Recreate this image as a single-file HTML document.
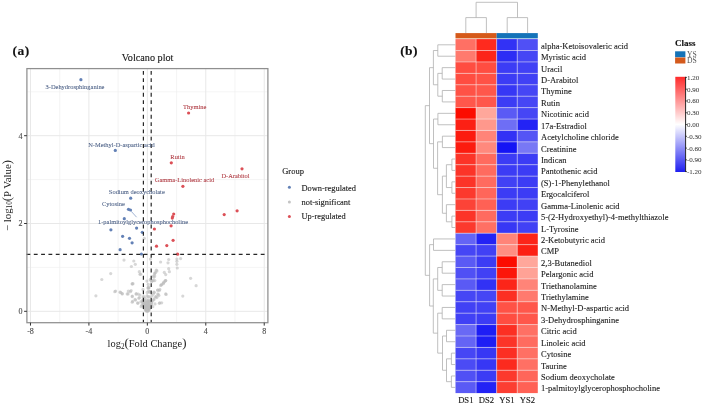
<!DOCTYPE html><html><head><meta charset="utf-8"><style>html,body{margin:0;padding:0;background:#fff;width:703px;height:405px;overflow:hidden}svg{display:block;filter:blur(0.3px)}text{font-family:"Liberation Serif",serif}</style></head><body>
<svg width="703" height="405" viewBox="0 0 703 405">
<rect width="703" height="405" fill="#fff"/>
<line x1="59.69" y1="68.6" x2="59.69" y2="322.7" stroke="#ececec" stroke-width="0.6"/><line x1="118.13" y1="68.6" x2="118.13" y2="322.7" stroke="#ececec" stroke-width="0.6"/><line x1="176.57" y1="68.6" x2="176.57" y2="322.7" stroke="#ececec" stroke-width="0.6"/><line x1="235.01" y1="68.6" x2="235.01" y2="322.7" stroke="#ececec" stroke-width="0.6"/><line x1="26.9" y1="267.40" x2="267.9" y2="267.40" stroke="#ececec" stroke-width="0.6"/><line x1="26.9" y1="179.60" x2="267.9" y2="179.60" stroke="#ececec" stroke-width="0.6"/><line x1="26.9" y1="91.80" x2="267.9" y2="91.80" stroke="#ececec" stroke-width="0.6"/><line x1="30.47" y1="68.6" x2="30.47" y2="322.7" stroke="#e8e8e8" stroke-width="1"/><line x1="88.91" y1="68.6" x2="88.91" y2="322.7" stroke="#e8e8e8" stroke-width="1"/><line x1="147.35" y1="68.6" x2="147.35" y2="322.7" stroke="#e8e8e8" stroke-width="1"/><line x1="205.79" y1="68.6" x2="205.79" y2="322.7" stroke="#e8e8e8" stroke-width="1"/><line x1="264.23" y1="68.6" x2="264.23" y2="322.7" stroke="#e8e8e8" stroke-width="1"/><line x1="26.9" y1="311.30" x2="267.9" y2="311.30" stroke="#e8e8e8" stroke-width="1"/><line x1="26.9" y1="223.50" x2="267.9" y2="223.50" stroke="#e8e8e8" stroke-width="1"/><line x1="26.9" y1="135.70" x2="267.9" y2="135.70" stroke="#e8e8e8" stroke-width="1"/>
<g fill="#bdbdbd" fill-opacity="0.6"><circle cx="124.0" cy="260.1" r="1.6"/><circle cx="133.8" cy="261.0" r="1.6"/><circle cx="135.3" cy="264.3" r="1.6"/><circle cx="131.4" cy="266.5" r="1.6"/><circle cx="110.7" cy="273.6" r="1.6"/><circle cx="101.8" cy="279.5" r="1.6"/><circle cx="139.3" cy="271.7" r="1.6"/><circle cx="140.0" cy="274.3" r="1.6"/><circle cx="132.3" cy="283.8" r="1.6"/><circle cx="114.8" cy="291.7" r="1.6"/><circle cx="120.7" cy="292.4" r="1.6"/><circle cx="122.2" cy="293.6" r="1.6"/><circle cx="128.1" cy="293.9" r="1.6"/><circle cx="130.4" cy="291.7" r="1.6"/><circle cx="132.3" cy="296.1" r="1.6"/><circle cx="136.3" cy="293.9" r="1.6"/><circle cx="139.3" cy="297.6" r="1.6"/><circle cx="132.6" cy="301.3" r="1.6"/><circle cx="137.8" cy="302.8" r="1.6"/><circle cx="143.0" cy="289.4" r="1.6"/><circle cx="148.9" cy="288.0" r="1.6"/><circle cx="149.6" cy="292.4" r="1.6"/><circle cx="153.3" cy="293.9" r="1.6"/><circle cx="155.6" cy="296.9" r="1.6"/><circle cx="157.8" cy="293.9" r="1.6"/><circle cx="149.6" cy="296.9" r="1.6"/><circle cx="148.9" cy="301.3" r="1.6"/><circle cx="152.6" cy="280.6" r="1.6"/><circle cx="154.8" cy="280.6" r="1.6"/><circle cx="154.8" cy="273.1" r="1.6"/><circle cx="156.3" cy="270.2" r="1.6"/><circle cx="153.3" cy="276.1" r="1.6"/><circle cx="150.4" cy="259.1" r="1.6"/><circle cx="143.0" cy="296.9" r="1.6"/><circle cx="160.6" cy="262.0" r="1.6"/><circle cx="168.7" cy="259.5" r="1.6"/><circle cx="168.0" cy="262.8" r="1.6"/><circle cx="176.9" cy="259.1" r="1.6"/><circle cx="180.6" cy="258.6" r="1.6"/><circle cx="176.9" cy="261.3" r="1.6"/><circle cx="176.9" cy="264.3" r="1.6"/><circle cx="177.3" cy="268.0" r="1.6"/><circle cx="168.7" cy="268.7" r="1.6"/><circle cx="169.4" cy="271.7" r="1.6"/><circle cx="164.3" cy="272.4" r="1.6"/><circle cx="165.7" cy="274.6" r="1.6"/><circle cx="156.9" cy="270.9" r="1.6"/><circle cx="154.6" cy="273.9" r="1.6"/><circle cx="153.9" cy="277.3" r="1.6"/><circle cx="150.9" cy="280.6" r="1.6"/><circle cx="165.7" cy="280.6" r="1.6"/><circle cx="163.5" cy="282.8" r="1.6"/><circle cx="161.3" cy="285.0" r="1.6"/><circle cx="159.8" cy="289.4" r="1.6"/><circle cx="157.6" cy="290.2" r="1.6"/><circle cx="154.2" cy="292.4" r="1.6"/><circle cx="158.3" cy="294.6" r="1.6"/><circle cx="165.7" cy="293.9" r="1.6"/><circle cx="156.9" cy="297.6" r="1.6"/><circle cx="153.9" cy="299.8" r="1.6"/><circle cx="159.8" cy="302.8" r="1.6"/><circle cx="190.6" cy="278.3" r="1.6"/><circle cx="196.1" cy="285.7" r="1.6"/><circle cx="182.8" cy="296.1" r="1.6"/><circle cx="148.0" cy="288.0" r="1.6"/><circle cx="147.2" cy="292.4" r="1.6"/><circle cx="148.0" cy="301.3" r="1.6"/><circle cx="132.2" cy="283.9" r="1.6"/><circle cx="115.6" cy="291.1" r="1.6"/><circle cx="120.0" cy="292.2" r="1.6"/><circle cx="122.2" cy="293.9" r="1.6"/><circle cx="128.3" cy="291.1" r="1.6"/><circle cx="131.1" cy="290.6" r="1.6"/><circle cx="127.2" cy="293.9" r="1.6"/><circle cx="136.1" cy="293.9" r="1.6"/><circle cx="140.0" cy="295.0" r="1.6"/><circle cx="132.2" cy="296.7" r="1.6"/><circle cx="138.9" cy="298.3" r="1.6"/><circle cx="135.0" cy="299.4" r="1.6"/><circle cx="132.2" cy="302.2" r="1.6"/><circle cx="137.8" cy="303.3" r="1.6"/><circle cx="141.1" cy="306.7" r="1.6"/><circle cx="148.3" cy="287.8" r="1.6"/><circle cx="148.9" cy="291.1" r="1.6"/><circle cx="153.9" cy="292.2" r="1.6"/><circle cx="157.8" cy="290.0" r="1.6"/><circle cx="159.4" cy="290.6" r="1.6"/><circle cx="166.1" cy="294.4" r="1.6"/><circle cx="156.1" cy="296.7" r="1.6"/><circle cx="158.9" cy="295.6" r="1.6"/><circle cx="153.9" cy="298.9" r="1.6"/><circle cx="148.3" cy="300.0" r="1.6"/><circle cx="159.4" cy="303.3" r="1.6"/><circle cx="155.0" cy="303.9" r="1.6"/><circle cx="161.7" cy="302.8" r="1.6"/><circle cx="152.8" cy="306.7" r="1.6"/><circle cx="143.9" cy="296.7" r="1.6"/><circle cx="143.3" cy="300.0" r="1.6"/><circle cx="148.3" cy="296.7" r="1.6"/><circle cx="161.7" cy="284.4" r="1.6"/><circle cx="163.9" cy="282.2" r="1.6"/><circle cx="165.6" cy="280.6" r="1.6"/><circle cx="151.7" cy="281.7" r="1.6"/><circle cx="153.3" cy="280.6" r="1.6"/><circle cx="148.3" cy="284.4" r="1.6"/><circle cx="144.3" cy="238.3" r="1.6"/><circle cx="95.9" cy="295.8" r="1.6"/><circle cx="146.9" cy="281.1" r="1.6"/><circle cx="150.3" cy="279.4" r="1.6"/><circle cx="148.6" cy="287.2" r="1.6"/><circle cx="149.5" cy="291.5" r="1.6"/><circle cx="146.9" cy="295.8" r="1.6"/><circle cx="145.2" cy="298.4" r="1.6"/><circle cx="152.1" cy="295.8" r="1.6"/><circle cx="154.7" cy="275.9" r="1.6"/><circle cx="155.6" cy="272.5" r="1.6"/><circle cx="165.0" cy="281.1" r="1.6"/><circle cx="163.3" cy="283.7" r="1.6"/><circle cx="160.7" cy="285.4" r="1.6"/><circle cx="140.8" cy="274.2" r="1.6"/><circle cx="133.0" cy="283.7" r="1.6"/><circle cx="138.2" cy="294.1" r="1.6"/><circle cx="135.6" cy="300.1" r="1.6"/><circle cx="140.8" cy="301.8" r="1.6"/><circle cx="141.7" cy="305.3" r="1.6"/><circle cx="146.2" cy="311.0" r="1.6"/><circle cx="146.7" cy="311.0" r="1.6"/><circle cx="147.2" cy="311.0" r="1.6"/><circle cx="147.7" cy="311.0" r="1.6"/><circle cx="148.2" cy="311.0" r="1.6"/><circle cx="145.5" cy="310.0" r="1.6"/><circle cx="146.3" cy="310.0" r="1.6"/><circle cx="147.2" cy="310.0" r="1.6"/><circle cx="148.1" cy="310.0" r="1.6"/><circle cx="148.9" cy="310.0" r="1.6"/><circle cx="145.0" cy="309.1" r="1.6"/><circle cx="146.1" cy="309.1" r="1.6"/><circle cx="147.2" cy="309.1" r="1.6"/><circle cx="148.3" cy="309.1" r="1.6"/><circle cx="149.4" cy="309.1" r="1.6"/><circle cx="144.6" cy="308.1" r="1.6"/><circle cx="145.9" cy="308.1" r="1.6"/><circle cx="147.2" cy="308.1" r="1.6"/><circle cx="148.5" cy="308.1" r="1.6"/><circle cx="149.8" cy="308.1" r="1.6"/><circle cx="144.2" cy="307.2" r="1.6"/><circle cx="145.7" cy="307.2" r="1.6"/><circle cx="147.2" cy="307.2" r="1.6"/><circle cx="148.7" cy="307.2" r="1.6"/><circle cx="150.2" cy="307.2" r="1.6"/><circle cx="143.9" cy="306.2" r="1.6"/><circle cx="145.5" cy="306.2" r="1.6"/><circle cx="147.2" cy="306.2" r="1.6"/><circle cx="148.9" cy="306.2" r="1.6"/><circle cx="150.5" cy="306.2" r="1.6"/><circle cx="143.6" cy="305.3" r="1.6"/><circle cx="145.4" cy="305.3" r="1.6"/><circle cx="147.2" cy="305.3" r="1.6"/><circle cx="149.0" cy="305.3" r="1.6"/><circle cx="150.8" cy="305.3" r="1.6"/><circle cx="143.3" cy="304.3" r="1.6"/><circle cx="145.2" cy="304.3" r="1.6"/><circle cx="147.2" cy="304.3" r="1.6"/><circle cx="149.2" cy="304.3" r="1.6"/><circle cx="151.1" cy="304.3" r="1.6"/><circle cx="143.0" cy="303.4" r="1.6"/><circle cx="145.1" cy="303.4" r="1.6"/><circle cx="147.2" cy="303.4" r="1.6"/><circle cx="149.3" cy="303.4" r="1.6"/><circle cx="151.4" cy="303.4" r="1.6"/><circle cx="142.7" cy="302.4" r="1.6"/><circle cx="145.0" cy="302.4" r="1.6"/><circle cx="147.2" cy="302.4" r="1.6"/><circle cx="149.4" cy="302.4" r="1.6"/><circle cx="151.7" cy="302.4" r="1.6"/><circle cx="142.5" cy="301.5" r="1.6"/><circle cx="144.8" cy="301.5" r="1.6"/><circle cx="147.2" cy="301.5" r="1.6"/><circle cx="149.6" cy="301.5" r="1.6"/><circle cx="151.9" cy="301.5" r="1.6"/><circle cx="142.2" cy="300.5" r="1.6"/><circle cx="144.7" cy="300.5" r="1.6"/><circle cx="147.2" cy="300.5" r="1.6"/><circle cx="149.7" cy="300.5" r="1.6"/><circle cx="152.2" cy="300.5" r="1.6"/></g>
<g fill="#6381b6"><circle cx="80.9" cy="79.7" r="1.6"/><circle cx="115.3" cy="150.4" r="1.6"/><circle cx="130.7" cy="198.2" r="1.6"/><circle cx="128.5" cy="209.3" r="1.6"/><circle cx="130.5" cy="210" r="1.6"/><circle cx="124.3" cy="218.7" r="1.6"/><circle cx="110.9" cy="229.8" r="1.6"/><circle cx="136.6" cy="228.1" r="1.6"/><circle cx="142.3" cy="232.3" r="1.6"/><circle cx="122.6" cy="236.3" r="1.6"/><circle cx="129.5" cy="238.3" r="1.6"/><circle cx="132.1" cy="242.8" r="1.6"/><circle cx="120.1" cy="249.7" r="1.6"/><circle cx="141.4" cy="254.0" r="1.6"/></g>
<g fill="#dc5057"><circle cx="188.6" cy="113" r="1.6"/><circle cx="171.3" cy="162.8" r="1.6"/><circle cx="242.0" cy="168.8" r="1.6"/><circle cx="182.9" cy="186.3" r="1.6"/><circle cx="224.2" cy="214.6" r="1.6"/><circle cx="237.1" cy="210.8" r="1.6"/><circle cx="173.7" cy="214" r="1.6"/><circle cx="172.7" cy="216.6" r="1.6"/><circle cx="172.3" cy="218.1" r="1.6"/><circle cx="171.1" cy="225.8" r="1.6"/><circle cx="154.4" cy="229" r="1.6"/><circle cx="173.1" cy="240.3" r="1.6"/><circle cx="166.8" cy="245.6" r="1.6"/><circle cx="156.5" cy="246.2" r="1.6"/><circle cx="177.6" cy="254.2" r="1.6"/></g>
<g stroke="#262626" stroke-width="1.2" fill="none"><line x1="143.4" y1="68.6" x2="143.4" y2="322.7" stroke-dasharray="3.84 3.48" stroke-dashoffset="5.02"/><line x1="151.2" y1="68.6" x2="151.2" y2="322.7" stroke-dasharray="3.84 3.48" stroke-dashoffset="5.02"/><line x1="26.48" y1="254.4" x2="267.9" y2="254.4" stroke-dasharray="3.84 3.48"/></g>
<line x1="131.2" y1="211.3" x2="136.6" y2="217.2" stroke="#6381b6" stroke-width="0.6"/>
<text transform="translate(75.0,89.0) scale(0.9,1)" font-size="7.15" fill="#506489" stroke="#506489" stroke-width="0.08" text-anchor="middle">3-Dehydrosphinganine</text>
<text transform="translate(121.5,146.8) scale(0.9,1)" font-size="7.15" fill="#506489" stroke="#506489" stroke-width="0.08" text-anchor="middle">N-Methyl-D-aspartic acid</text>
<text transform="translate(136.8,194.3) scale(0.9,1)" font-size="7.15" fill="#506489" stroke="#506489" stroke-width="0.08" text-anchor="middle">Sodium deoxycholate</text>
<text transform="translate(113.4,205.9) scale(0.9,1)" font-size="7.15" fill="#506489" stroke="#506489" stroke-width="0.08" text-anchor="middle">Cytosine</text>
<text transform="translate(143.0,223.8) scale(0.9,1)" font-size="7.15" fill="#506489" stroke="#506489" stroke-width="0.08" text-anchor="middle">1-palmitoylglycerophosphocholine</text>
<text transform="translate(194.7,108.8) scale(0.9,1)" font-size="7.15" fill="#b03c44" stroke="#b03c44" stroke-width="0.08" text-anchor="middle">Thymine</text>
<text transform="translate(177.5,158.6) scale(0.9,1)" font-size="7.15" fill="#b03c44" stroke="#b03c44" stroke-width="0.08" text-anchor="middle">Rutin</text>
<text transform="translate(235.5,178.3) scale(0.9,1)" font-size="7.15" fill="#b03c44" stroke="#b03c44" stroke-width="0.08" text-anchor="middle">D-Arabitol</text>
<text transform="translate(184.5,182.3) scale(0.9,1)" font-size="7.15" fill="#b03c44" stroke="#b03c44" stroke-width="0.08" text-anchor="middle">Gamma-Linolenic acid</text>
<rect x="26.9" y="68.6" width="241.0" height="254.1" fill="none" stroke="#8f8f8f" stroke-width="1.25"/>
<g stroke="#333" stroke-width="1"><line x1="24.1" y1="311.30" x2="26.9" y2="311.30"/><line x1="24.1" y1="223.50" x2="26.9" y2="223.50"/><line x1="24.1" y1="135.70" x2="26.9" y2="135.70"/><line x1="30.47" y1="322.7" x2="30.47" y2="325.6"/><line x1="88.91" y1="322.7" x2="88.91" y2="325.6"/><line x1="147.35" y1="322.7" x2="147.35" y2="325.6"/><line x1="205.79" y1="322.7" x2="205.79" y2="325.6"/><line x1="264.23" y1="322.7" x2="264.23" y2="325.6"/></g>
<text x="22.6" y="314.10" font-size="8" fill="#4d4d4d" stroke="#4d4d4d" stroke-width="0.12" text-anchor="end" font-weight="normal" >0</text>
<text x="22.6" y="226.30" font-size="8" fill="#4d4d4d" stroke="#4d4d4d" stroke-width="0.12" text-anchor="end" font-weight="normal" >2</text>
<text x="22.6" y="138.50" font-size="8" fill="#4d4d4d" stroke="#4d4d4d" stroke-width="0.12" text-anchor="end" font-weight="normal" >4</text>
<text x="30.47" y="333.6" font-size="8" fill="#4d4d4d" stroke="#4d4d4d" stroke-width="0.12" text-anchor="middle" font-weight="normal" >-8</text>
<text x="88.91" y="333.6" font-size="8" fill="#4d4d4d" stroke="#4d4d4d" stroke-width="0.12" text-anchor="middle" font-weight="normal" >-4</text>
<text x="147.35" y="333.6" font-size="8" fill="#4d4d4d" stroke="#4d4d4d" stroke-width="0.12" text-anchor="middle" font-weight="normal" >0</text>
<text x="205.79" y="333.6" font-size="8" fill="#4d4d4d" stroke="#4d4d4d" stroke-width="0.12" text-anchor="middle" font-weight="normal" >4</text>
<text x="264.23" y="333.6" font-size="8" fill="#4d4d4d" stroke="#4d4d4d" stroke-width="0.12" text-anchor="middle" font-weight="normal" >8</text>
<text x="147.6" y="60.6" font-size="10.2" fill="#1a1a1a" stroke="#1a1a1a" stroke-width="0.12" text-anchor="middle" font-weight="normal" >Volcano plot</text>
<text x="147.0" y="347.2" font-size="10.4" fill="#1a1a1a" text-anchor="middle">log<tspan font-size="7.2" dy="1.8">2</tspan><tspan dy="-1.8" font-size="12.8">(</tspan>Fold Change<tspan font-size="12.8">)</tspan></text>
<text transform="translate(10.6,195.5) rotate(-90)" font-size="10.8" fill="#1a1a1a" text-anchor="middle">− log<tspan font-size="7.2" dy="1.8">10</tspan><tspan dy="-1.8" font-size="12.8">(</tspan>P Value<tspan font-size="12.8">)</tspan></text>
<text x="282.2" y="174.4" font-size="8.5" fill="#1a1a1a" stroke="#1a1a1a" stroke-width="0.12" text-anchor="start" font-weight="normal" >Group</text>
<circle cx="289.4" cy="187.3" r="1.5" fill="#6381b6"/><circle cx="289.4" cy="202.0" r="1.5" fill="#c4c4c4"/><circle cx="289.4" cy="216.5" r="1.5" fill="#dc5057"/>
<text x="301.5" y="190.5" font-size="8.4" fill="#1a1a1a" stroke="#1a1a1a" stroke-width="0.12" text-anchor="start" font-weight="normal" >Down-regulated</text>
<text x="301.5" y="204.9" font-size="8.4" fill="#1a1a1a" stroke="#1a1a1a" stroke-width="0.12" text-anchor="start" font-weight="normal" >not-significant</text>
<text x="301.5" y="219.4" font-size="8.4" fill="#1a1a1a" stroke="#1a1a1a" stroke-width="0.12" text-anchor="start" font-weight="normal" >Up-regulated</text>
<text x="12.4" y="55.0" font-size="13.5" fill="#111" stroke="#111" stroke-width="0.12" text-anchor="start" font-weight="bold" letter-spacing="0.5">(a)</text>
<text x="400.2" y="55.0" font-size="13.5" fill="#111" stroke="#111" stroke-width="0.12" text-anchor="start" font-weight="bold" letter-spacing="0.4">(b)</text>
<g><rect x="455.50" y="39.10" width="20.57" height="11.42" fill="rgb(255,112,100)"/><rect x="476.07" y="39.10" width="20.57" height="11.42" fill="rgb(255,42,30)"/><rect x="496.65" y="39.10" width="20.57" height="11.42" fill="rgb(50,50,245)"/><rect x="517.22" y="39.10" width="20.57" height="11.42" fill="rgb(80,80,245)"/><rect x="455.50" y="50.52" width="20.57" height="11.42" fill="rgb(255,122,110)"/><rect x="476.07" y="50.52" width="20.57" height="11.42" fill="rgb(252,37,25)"/><rect x="496.65" y="50.52" width="20.57" height="11.42" fill="rgb(45,45,245)"/><rect x="517.22" y="50.52" width="20.57" height="11.42" fill="rgb(70,70,245)"/><rect x="455.50" y="61.94" width="20.57" height="11.42" fill="rgb(255,77,65)"/><rect x="476.07" y="61.94" width="20.57" height="11.42" fill="rgb(255,77,65)"/><rect x="496.65" y="61.94" width="20.57" height="11.42" fill="rgb(60,60,245)"/><rect x="517.22" y="61.94" width="20.57" height="11.42" fill="rgb(65,65,245)"/><rect x="455.50" y="73.36" width="20.57" height="11.42" fill="rgb(255,77,65)"/><rect x="476.07" y="73.36" width="20.57" height="11.42" fill="rgb(255,82,70)"/><rect x="496.65" y="73.36" width="20.57" height="11.42" fill="rgb(60,60,245)"/><rect x="517.22" y="73.36" width="20.57" height="11.42" fill="rgb(65,65,245)"/><rect x="455.50" y="84.78" width="20.57" height="11.42" fill="rgb(255,82,70)"/><rect x="476.07" y="84.78" width="20.57" height="11.42" fill="rgb(255,87,75)"/><rect x="496.65" y="84.78" width="20.57" height="11.42" fill="rgb(55,55,245)"/><rect x="517.22" y="84.78" width="20.57" height="11.42" fill="rgb(70,70,245)"/><rect x="455.50" y="96.20" width="20.57" height="11.42" fill="rgb(255,87,75)"/><rect x="476.07" y="96.20" width="20.57" height="11.42" fill="rgb(255,87,75)"/><rect x="496.65" y="96.20" width="20.57" height="11.42" fill="rgb(60,60,245)"/><rect x="517.22" y="96.20" width="20.57" height="11.42" fill="rgb(70,70,245)"/><rect x="455.50" y="107.62" width="20.57" height="11.42" fill="rgb(252,12,0)"/><rect x="476.07" y="107.62" width="20.57" height="11.42" fill="rgb(255,167,155)"/><rect x="496.65" y="107.62" width="20.57" height="11.42" fill="rgb(90,90,245)"/><rect x="517.22" y="107.62" width="20.57" height="11.42" fill="rgb(70,70,245)"/><rect x="455.50" y="119.04" width="20.57" height="11.42" fill="rgb(252,32,20)"/><rect x="476.07" y="119.04" width="20.57" height="11.42" fill="rgb(255,152,140)"/><rect x="496.65" y="119.04" width="20.57" height="11.42" fill="rgb(110,110,245)"/><rect x="517.22" y="119.04" width="20.57" height="11.42" fill="rgb(35,35,245)"/><rect x="455.50" y="130.45" width="20.57" height="11.42" fill="rgb(252,27,15)"/><rect x="476.07" y="130.45" width="20.57" height="11.42" fill="rgb(255,132,120)"/><rect x="496.65" y="130.45" width="20.57" height="11.42" fill="rgb(50,50,245)"/><rect x="517.22" y="130.45" width="20.57" height="11.42" fill="rgb(85,85,245)"/><rect x="455.50" y="141.87" width="20.57" height="11.42" fill="rgb(252,27,15)"/><rect x="476.07" y="141.87" width="20.57" height="11.42" fill="rgb(255,137,125)"/><rect x="496.65" y="141.87" width="20.57" height="11.42" fill="rgb(20,20,245)"/><rect x="517.22" y="141.87" width="20.57" height="11.42" fill="rgb(120,120,245)"/><rect x="455.50" y="153.29" width="20.57" height="11.42" fill="rgb(252,52,40)"/><rect x="476.07" y="153.29" width="20.57" height="11.42" fill="rgb(255,107,95)"/><rect x="496.65" y="153.29" width="20.57" height="11.42" fill="rgb(60,60,245)"/><rect x="517.22" y="153.29" width="20.57" height="11.42" fill="rgb(60,60,245)"/><rect x="455.50" y="164.71" width="20.57" height="11.42" fill="rgb(252,52,40)"/><rect x="476.07" y="164.71" width="20.57" height="11.42" fill="rgb(255,107,95)"/><rect x="496.65" y="164.71" width="20.57" height="11.42" fill="rgb(60,60,245)"/><rect x="517.22" y="164.71" width="20.57" height="11.42" fill="rgb(60,60,245)"/><rect x="455.50" y="176.13" width="20.57" height="11.42" fill="rgb(252,52,40)"/><rect x="476.07" y="176.13" width="20.57" height="11.42" fill="rgb(255,107,95)"/><rect x="496.65" y="176.13" width="20.57" height="11.42" fill="rgb(65,65,245)"/><rect x="517.22" y="176.13" width="20.57" height="11.42" fill="rgb(60,60,245)"/><rect x="455.50" y="187.55" width="20.57" height="11.42" fill="rgb(252,57,45)"/><rect x="476.07" y="187.55" width="20.57" height="11.42" fill="rgb(255,102,90)"/><rect x="496.65" y="187.55" width="20.57" height="11.42" fill="rgb(60,60,245)"/><rect x="517.22" y="187.55" width="20.57" height="11.42" fill="rgb(60,60,245)"/><rect x="455.50" y="198.97" width="20.57" height="11.42" fill="rgb(252,67,55)"/><rect x="476.07" y="198.97" width="20.57" height="11.42" fill="rgb(255,97,85)"/><rect x="496.65" y="198.97" width="20.57" height="11.42" fill="rgb(60,60,245)"/><rect x="517.22" y="198.97" width="20.57" height="11.42" fill="rgb(65,65,245)"/><rect x="455.50" y="210.39" width="20.57" height="11.42" fill="rgb(252,52,40)"/><rect x="476.07" y="210.39" width="20.57" height="11.42" fill="rgb(255,107,95)"/><rect x="496.65" y="210.39" width="20.57" height="11.42" fill="rgb(60,60,245)"/><rect x="517.22" y="210.39" width="20.57" height="11.42" fill="rgb(60,60,245)"/><rect x="455.50" y="221.81" width="20.57" height="11.42" fill="rgb(252,57,45)"/><rect x="476.07" y="221.81" width="20.57" height="11.42" fill="rgb(255,112,100)"/><rect x="496.65" y="221.81" width="20.57" height="11.42" fill="rgb(55,55,245)"/><rect x="517.22" y="221.81" width="20.57" height="11.42" fill="rgb(65,65,245)"/><rect x="455.50" y="233.23" width="20.57" height="11.42" fill="rgb(100,100,245)"/><rect x="476.07" y="233.23" width="20.57" height="11.42" fill="rgb(35,35,245)"/><rect x="496.65" y="233.23" width="20.57" height="11.42" fill="rgb(255,132,120)"/><rect x="517.22" y="233.23" width="20.57" height="11.42" fill="rgb(252,37,25)"/><rect x="455.50" y="244.65" width="20.57" height="11.42" fill="rgb(70,70,245)"/><rect x="476.07" y="244.65" width="20.57" height="11.42" fill="rgb(65,65,245)"/><rect x="496.65" y="244.65" width="20.57" height="11.42" fill="rgb(255,142,130)"/><rect x="517.22" y="244.65" width="20.57" height="11.42" fill="rgb(252,32,20)"/><rect x="455.50" y="256.07" width="20.57" height="11.42" fill="rgb(90,90,245)"/><rect x="476.07" y="256.07" width="20.57" height="11.42" fill="rgb(60,60,245)"/><rect x="496.65" y="256.07" width="20.57" height="11.42" fill="rgb(252,12,0)"/><rect x="517.22" y="256.07" width="20.57" height="11.42" fill="rgb(255,167,155)"/><rect x="455.50" y="267.49" width="20.57" height="11.42" fill="rgb(80,80,245)"/><rect x="476.07" y="267.49" width="20.57" height="11.42" fill="rgb(65,65,245)"/><rect x="496.65" y="267.49" width="20.57" height="11.42" fill="rgb(252,22,10)"/><rect x="517.22" y="267.49" width="20.57" height="11.42" fill="rgb(255,162,150)"/><rect x="455.50" y="278.91" width="20.57" height="11.42" fill="rgb(90,90,245)"/><rect x="476.07" y="278.91" width="20.57" height="11.42" fill="rgb(50,50,245)"/><rect x="496.65" y="278.91" width="20.57" height="11.42" fill="rgb(252,37,25)"/><rect x="517.22" y="278.91" width="20.57" height="11.42" fill="rgb(255,132,120)"/><rect x="455.50" y="290.33" width="20.57" height="11.42" fill="rgb(70,70,245)"/><rect x="476.07" y="290.33" width="20.57" height="11.42" fill="rgb(70,70,245)"/><rect x="496.65" y="290.33" width="20.57" height="11.42" fill="rgb(252,47,35)"/><rect x="517.22" y="290.33" width="20.57" height="11.42" fill="rgb(255,122,110)"/><rect x="455.50" y="301.75" width="20.57" height="11.42" fill="rgb(65,65,245)"/><rect x="476.07" y="301.75" width="20.57" height="11.42" fill="rgb(65,65,245)"/><rect x="496.65" y="301.75" width="20.57" height="11.42" fill="rgb(255,82,70)"/><rect x="517.22" y="301.75" width="20.57" height="11.42" fill="rgb(255,87,75)"/><rect x="455.50" y="313.16" width="20.57" height="11.42" fill="rgb(65,65,245)"/><rect x="476.07" y="313.16" width="20.57" height="11.42" fill="rgb(60,60,245)"/><rect x="496.65" y="313.16" width="20.57" height="11.42" fill="rgb(255,77,65)"/><rect x="517.22" y="313.16" width="20.57" height="11.42" fill="rgb(255,87,75)"/><rect x="455.50" y="324.58" width="20.57" height="11.42" fill="rgb(105,105,245)"/><rect x="476.07" y="324.58" width="20.57" height="11.42" fill="rgb(30,30,245)"/><rect x="496.65" y="324.58" width="20.57" height="11.42" fill="rgb(252,47,35)"/><rect x="517.22" y="324.58" width="20.57" height="11.42" fill="rgb(255,112,100)"/><rect x="455.50" y="336.00" width="20.57" height="11.42" fill="rgb(100,100,245)"/><rect x="476.07" y="336.00" width="20.57" height="11.42" fill="rgb(30,30,245)"/><rect x="496.65" y="336.00" width="20.57" height="11.42" fill="rgb(252,52,40)"/><rect x="517.22" y="336.00" width="20.57" height="11.42" fill="rgb(255,107,95)"/><rect x="455.50" y="347.42" width="20.57" height="11.42" fill="rgb(70,70,245)"/><rect x="476.07" y="347.42" width="20.57" height="11.42" fill="rgb(55,55,245)"/><rect x="496.65" y="347.42" width="20.57" height="11.42" fill="rgb(252,47,35)"/><rect x="517.22" y="347.42" width="20.57" height="11.42" fill="rgb(255,112,100)"/><rect x="455.50" y="358.84" width="20.57" height="11.42" fill="rgb(75,75,245)"/><rect x="476.07" y="358.84" width="20.57" height="11.42" fill="rgb(55,55,245)"/><rect x="496.65" y="358.84" width="20.57" height="11.42" fill="rgb(252,42,30)"/><rect x="517.22" y="358.84" width="20.57" height="11.42" fill="rgb(255,112,100)"/><rect x="455.50" y="370.26" width="20.57" height="11.42" fill="rgb(80,80,245)"/><rect x="476.07" y="370.26" width="20.57" height="11.42" fill="rgb(60,60,245)"/><rect x="496.65" y="370.26" width="20.57" height="11.42" fill="rgb(252,57,45)"/><rect x="517.22" y="370.26" width="20.57" height="11.42" fill="rgb(255,102,90)"/><rect x="455.50" y="381.68" width="20.57" height="11.42" fill="rgb(90,90,245)"/><rect x="476.07" y="381.68" width="20.57" height="11.42" fill="rgb(35,35,245)"/><rect x="496.65" y="381.68" width="20.57" height="11.42" fill="rgb(252,62,50)"/><rect x="517.22" y="381.68" width="20.57" height="11.42" fill="rgb(255,97,85)"/></g>
<g stroke="#f4f0f0" stroke-width="0.9" stroke-opacity="0.55"><line x1="455.5" y1="50.52" x2="537.80" y2="50.52"/><line x1="455.5" y1="61.94" x2="537.80" y2="61.94"/><line x1="455.5" y1="73.36" x2="537.80" y2="73.36"/><line x1="455.5" y1="84.78" x2="537.80" y2="84.78"/><line x1="455.5" y1="96.20" x2="537.80" y2="96.20"/><line x1="455.5" y1="107.62" x2="537.80" y2="107.62"/><line x1="455.5" y1="119.04" x2="537.80" y2="119.04"/><line x1="455.5" y1="130.45" x2="537.80" y2="130.45"/><line x1="455.5" y1="141.87" x2="537.80" y2="141.87"/><line x1="455.5" y1="153.29" x2="537.80" y2="153.29"/><line x1="455.5" y1="164.71" x2="537.80" y2="164.71"/><line x1="455.5" y1="176.13" x2="537.80" y2="176.13"/><line x1="455.5" y1="187.55" x2="537.80" y2="187.55"/><line x1="455.5" y1="198.97" x2="537.80" y2="198.97"/><line x1="455.5" y1="210.39" x2="537.80" y2="210.39"/><line x1="455.5" y1="221.81" x2="537.80" y2="221.81"/><line x1="455.5" y1="233.23" x2="537.80" y2="233.23"/><line x1="455.5" y1="244.65" x2="537.80" y2="244.65"/><line x1="455.5" y1="256.07" x2="537.80" y2="256.07"/><line x1="455.5" y1="267.49" x2="537.80" y2="267.49"/><line x1="455.5" y1="278.91" x2="537.80" y2="278.91"/><line x1="455.5" y1="290.33" x2="537.80" y2="290.33"/><line x1="455.5" y1="301.75" x2="537.80" y2="301.75"/><line x1="455.5" y1="313.16" x2="537.80" y2="313.16"/><line x1="455.5" y1="324.58" x2="537.80" y2="324.58"/><line x1="455.5" y1="336.00" x2="537.80" y2="336.00"/><line x1="455.5" y1="347.42" x2="537.80" y2="347.42"/><line x1="455.5" y1="358.84" x2="537.80" y2="358.84"/><line x1="455.5" y1="370.26" x2="537.80" y2="370.26"/><line x1="455.5" y1="381.68" x2="537.80" y2="381.68"/><line x1="476.07" y1="39.1" x2="476.07" y2="393.10"/><line x1="496.65" y1="39.1" x2="496.65" y2="393.10"/><line x1="517.22" y1="39.1" x2="517.22" y2="393.10"/></g>
<rect x="455.5" y="33.1" width="41.15" height="5.3" fill="#d55a1a"/>
<rect x="496.65" y="33.1" width="41.15" height="5.3" fill="#1473b8"/>
<text x="541.0" y="48.81" font-size="8.5" fill="#1a1a1a" stroke="#1a1a1a" stroke-width="0.1">alpha-Ketoisovaleric acid</text><text x="541.0" y="60.23" font-size="8.5" fill="#1a1a1a" stroke="#1a1a1a" stroke-width="0.1">Myristic acid</text><text x="541.0" y="71.65" font-size="8.5" fill="#1a1a1a" stroke="#1a1a1a" stroke-width="0.1">Uracil</text><text x="541.0" y="83.07" font-size="8.5" fill="#1a1a1a" stroke="#1a1a1a" stroke-width="0.1">D-Arabitol</text><text x="541.0" y="94.49" font-size="8.5" fill="#1a1a1a" stroke="#1a1a1a" stroke-width="0.1">Thymine</text><text x="541.0" y="105.91" font-size="8.5" fill="#1a1a1a" stroke="#1a1a1a" stroke-width="0.1">Rutin</text><text x="541.0" y="117.33" font-size="8.5" fill="#1a1a1a" stroke="#1a1a1a" stroke-width="0.1">Nicotinic acid</text><text x="541.0" y="128.75" font-size="8.5" fill="#1a1a1a" stroke="#1a1a1a" stroke-width="0.1">17a-Estradiol</text><text x="541.0" y="140.16" font-size="8.5" fill="#1a1a1a" stroke="#1a1a1a" stroke-width="0.1">Acetylcholine chloride</text><text x="541.0" y="151.58" font-size="8.5" fill="#1a1a1a" stroke="#1a1a1a" stroke-width="0.1">Creatinine</text><text x="541.0" y="163.00" font-size="8.5" fill="#1a1a1a" stroke="#1a1a1a" stroke-width="0.1">Indican</text><text x="541.0" y="174.42" font-size="8.5" fill="#1a1a1a" stroke="#1a1a1a" stroke-width="0.1">Pantothenic acid</text><text x="541.0" y="185.84" font-size="8.5" fill="#1a1a1a" stroke="#1a1a1a" stroke-width="0.1">(S)-1-Phenylethanol</text><text x="541.0" y="197.26" font-size="8.5" fill="#1a1a1a" stroke="#1a1a1a" stroke-width="0.1">Ergocalciferol</text><text x="541.0" y="208.68" font-size="8.5" fill="#1a1a1a" stroke="#1a1a1a" stroke-width="0.1">Gamma-Linolenic acid</text><text x="541.0" y="220.10" font-size="8.5" fill="#1a1a1a" stroke="#1a1a1a" stroke-width="0.1">5-(2-Hydroxyethyl)-4-methylthiazole</text><text x="541.0" y="231.52" font-size="8.5" fill="#1a1a1a" stroke="#1a1a1a" stroke-width="0.1">L-Tyrosine</text><text x="541.0" y="242.94" font-size="8.5" fill="#1a1a1a" stroke="#1a1a1a" stroke-width="0.1">2-Ketobutyric acid</text><text x="541.0" y="254.36" font-size="8.5" fill="#1a1a1a" stroke="#1a1a1a" stroke-width="0.1">CMP</text><text x="541.0" y="265.78" font-size="8.5" fill="#1a1a1a" stroke="#1a1a1a" stroke-width="0.1">2,3-Butanediol</text><text x="541.0" y="277.20" font-size="8.5" fill="#1a1a1a" stroke="#1a1a1a" stroke-width="0.1">Pelargonic acid</text><text x="541.0" y="288.62" font-size="8.5" fill="#1a1a1a" stroke="#1a1a1a" stroke-width="0.1">Triethanolamine</text><text x="541.0" y="300.04" font-size="8.5" fill="#1a1a1a" stroke="#1a1a1a" stroke-width="0.1">Triethylamine</text><text x="541.0" y="311.45" font-size="8.5" fill="#1a1a1a" stroke="#1a1a1a" stroke-width="0.1">N-Methyl-D-aspartic acid</text><text x="541.0" y="322.87" font-size="8.5" fill="#1a1a1a" stroke="#1a1a1a" stroke-width="0.1">3-Dehydrosphinganine</text><text x="541.0" y="334.29" font-size="8.5" fill="#1a1a1a" stroke="#1a1a1a" stroke-width="0.1">Citric acid</text><text x="541.0" y="345.71" font-size="8.5" fill="#1a1a1a" stroke="#1a1a1a" stroke-width="0.1">Linoleic acid</text><text x="541.0" y="357.13" font-size="8.5" fill="#1a1a1a" stroke="#1a1a1a" stroke-width="0.1">Cytosine</text><text x="541.0" y="368.55" font-size="8.5" fill="#1a1a1a" stroke="#1a1a1a" stroke-width="0.1">Taurine</text><text x="541.0" y="379.97" font-size="8.5" fill="#1a1a1a" stroke="#1a1a1a" stroke-width="0.1">Sodium deoxycholate</text><text x="541.0" y="391.39" font-size="8.5" fill="#1a1a1a" stroke="#1a1a1a" stroke-width="0.1">1-palmitoylglycerophosphocholine</text>
<text x="465.79" y="402.6" font-size="8.6" fill="#1a1a1a" stroke="#1a1a1a" stroke-width="0.12" text-anchor="middle" font-weight="normal" >DS1</text>
<text x="486.36" y="402.6" font-size="8.6" fill="#1a1a1a" stroke="#1a1a1a" stroke-width="0.12" text-anchor="middle" font-weight="normal" >DS2</text>
<text x="506.94" y="402.6" font-size="8.6" fill="#1a1a1a" stroke="#1a1a1a" stroke-width="0.12" text-anchor="middle" font-weight="normal" >YS1</text>
<text x="527.51" y="402.6" font-size="8.6" fill="#1a1a1a" stroke="#1a1a1a" stroke-width="0.12" text-anchor="middle" font-weight="normal" >YS2</text>
<path d="M437.8,44.81H455.5M437.8,56.23H455.5M437.8,44.81V56.23M442.2,67.65H455.5M442.2,79.07H455.5M442.2,67.65V79.07M442.3,90.49H455.5M442.3,101.91H455.5M442.3,90.49V101.91M437.8,73.36H442.2M437.8,96.20H442.3M437.8,73.36V96.20M433.4,50.52H437.8M433.4,84.78H437.8M433.4,50.52V84.78M437.9,113.33H455.5M437.9,124.75H455.5M437.9,113.33V124.75M442.4,136.16H455.5M442.4,147.58H455.5M442.4,136.16V147.58M451.9,159.00H455.5M451.9,170.42H455.5M451.9,159.00V170.42M451.9,181.84H455.5M451.9,193.26H455.5M451.9,181.84V193.26M446.4,164.71H451.9M446.4,187.55H451.9M446.4,164.71V187.55M451.9,216.10H455.5M451.9,227.52H455.5M451.9,216.10V227.52M446.4,204.68H455.5M446.4,221.81H451.9M446.4,204.68V221.81M442.4,176.13H446.4M442.4,213.25H446.4M442.4,176.13V213.25M437.6,141.87H442.4M437.6,194.69H442.4M437.6,141.87V194.69M433.5,119.04H437.9M433.5,168.28H437.6M433.5,119.04V168.28M429.5,67.65H433.4M429.5,143.66H433.5M429.5,67.65V143.66M433.5,238.94H455.5M433.5,250.36H455.5M433.5,238.94V250.36M442.2,261.78H455.5M442.2,273.20H455.5M442.2,261.78V273.20M442.2,284.62H455.5M442.2,296.04H455.5M442.2,284.62V296.04M437.7,267.49H442.2M437.7,290.33H442.2M437.7,267.49V290.33M442.2,307.45H455.5M442.2,318.87H455.5M442.2,307.45V318.87M446.5,330.29H455.5M446.5,341.71H455.5M446.5,330.29V341.71M451.4,353.13H455.5M451.4,364.55H455.5M451.4,353.13V364.55M451.4,375.97H455.5M451.4,387.39H455.5M451.4,375.97V387.39M446.5,358.84H451.4M446.5,381.68H451.4M446.5,358.84V381.68M442.5,336.00H446.5M442.5,370.26H446.5M442.5,336.00V370.26M437.7,313.16H442.2M437.7,353.13H442.5M437.7,313.16V353.13M433.3,278.91H437.7M433.3,333.15H437.7M433.3,278.91V333.15M429.6,244.65H433.5M429.6,306.03H433.3M429.6,244.65V306.03M425.3,105.65H429.5M425.3,275.34H429.6M425.3,105.65V275.34" stroke="#b0b0b0" stroke-width="0.8" fill="none"/>
<path d="M465.8,33.1V17.6H486.4V33.1M476.1,17.6V2.3H517.5V17.6M507.2,33.1V17.6H527.6V33.1" stroke="#b0b0b0" stroke-width="0.8" fill="none"/>
<text x="675.0" y="45.6" font-size="9" fill="#111" stroke="#111" stroke-width="0.12" text-anchor="start" font-weight="bold" >Class</text>
<rect x="675.1" y="51.3" width="10.3" height="6.0" fill="#1473b8"/><rect x="675.1" y="57.5" width="10.3" height="6.0" fill="#d45a1c"/>
<text x="687.0" y="56.6" font-size="7.6" fill="#555" stroke="#555" stroke-width="0" text-anchor="start" font-weight="normal" >YS</text>
<text x="687.0" y="63.2" font-size="7.6" fill="#555" stroke="#555" stroke-width="0" text-anchor="start" font-weight="normal" >DS</text>
<defs><linearGradient id="cb" x1="0" y1="0" x2="0" y2="1"><stop offset="0" stop-color="#ff2b2b"/><stop offset="0.5" stop-color="#ffffff"/><stop offset="1" stop-color="#1e1ef0"/></linearGradient></defs>
<rect x="675.3" y="76.8" width="10.1" height="95.2" fill="url(#cb)"/>
<line x1="685.6" y1="76.8" x2="685.6" y2="172" stroke="#111" stroke-width="0.9"/>
<line x1="685.6" y1="77.40" x2="687.0" y2="77.40" stroke="#111" stroke-width="0.7"/>
<text x="687.0" y="79.90" font-size="7.0" fill="#444" stroke="#444" stroke-width="0.05" text-anchor="start" font-weight="normal" >1.20</text>
<line x1="685.6" y1="89.18" x2="687.0" y2="89.18" stroke="#111" stroke-width="0.7"/>
<text x="687.0" y="91.68" font-size="7.0" fill="#444" stroke="#444" stroke-width="0.05" text-anchor="start" font-weight="normal" >0.90</text>
<line x1="685.6" y1="100.96" x2="687.0" y2="100.96" stroke="#111" stroke-width="0.7"/>
<text x="687.0" y="103.46" font-size="7.0" fill="#444" stroke="#444" stroke-width="0.05" text-anchor="start" font-weight="normal" >0.60</text>
<line x1="685.6" y1="112.74" x2="687.0" y2="112.74" stroke="#111" stroke-width="0.7"/>
<text x="687.0" y="115.24" font-size="7.0" fill="#444" stroke="#444" stroke-width="0.05" text-anchor="start" font-weight="normal" >0.30</text>
<line x1="685.6" y1="124.52" x2="687.0" y2="124.52" stroke="#111" stroke-width="0.7"/>
<text x="687.0" y="127.02" font-size="7.0" fill="#444" stroke="#444" stroke-width="0.05" text-anchor="start" font-weight="normal" >0.00</text>
<line x1="685.6" y1="136.30" x2="687.0" y2="136.30" stroke="#111" stroke-width="0.7"/>
<text x="687.0" y="138.80" font-size="7.0" fill="#444" stroke="#444" stroke-width="0.05" text-anchor="start" font-weight="normal" >-0.30</text>
<line x1="685.6" y1="148.08" x2="687.0" y2="148.08" stroke="#111" stroke-width="0.7"/>
<text x="687.0" y="150.58" font-size="7.0" fill="#444" stroke="#444" stroke-width="0.05" text-anchor="start" font-weight="normal" >-0.60</text>
<line x1="685.6" y1="159.86" x2="687.0" y2="159.86" stroke="#111" stroke-width="0.7"/>
<text x="687.0" y="162.36" font-size="7.0" fill="#444" stroke="#444" stroke-width="0.05" text-anchor="start" font-weight="normal" >-0.90</text>
<line x1="685.6" y1="171.64" x2="687.0" y2="171.64" stroke="#111" stroke-width="0.7"/>
<text x="687.0" y="174.14" font-size="7.0" fill="#444" stroke="#444" stroke-width="0.05" text-anchor="start" font-weight="normal" >-1.20</text>
</svg></body></html>
